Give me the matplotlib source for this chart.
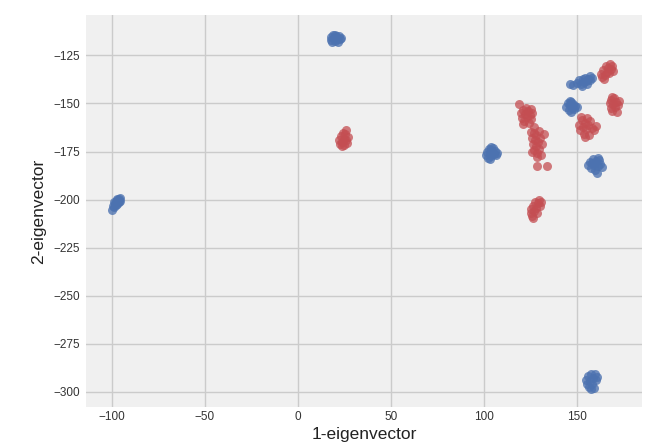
import matplotlib
matplotlib.use("Agg")
import matplotlib.pyplot as plt

# Blue class points (1-eigenvector, 2-eigenvector)
blue_x = [
    -100, -99.5, -99, -98.5, -98, -97.5, -97, -96.5, -96, -95.5, -98, -97, -96, -99, -95.5,
    17.5, 18, 19, 19.5, 20, 20.5, 21, 22, 22.5, 21.5, 18.5, 20, 23,
    101, 101.5, 102, 102.5, 103, 103.5, 104, 104.5, 105, 105.5, 106, 106.5, 103, 104, 107,
    146, 148, 150, 151, 152, 153, 153.5, 154.5, 155, 156, 157, 158, 152.5, 155.5, 157,
    144, 145, 145.5, 146, 146.5, 147, 147.5, 148, 148.5, 149, 146, 150,
    156, 157, 157.5, 158.5, 159, 159.5, 160, 160.5, 161, 162, 162.5, 163.5, 158, 161,
    155, 155.5, 156, 156.5, 157, 157.5, 158, 158.5, 159, 159.5, 160, 160.5, 157.5,
]
blue_y = [
    -205.5, -203.5, -204, -202, -201, -202.5, -200, -201, -199.5, -200.5, -203, -199.5, -201.5, -201.5, -199,
    -115.5, -117, -114.5, -116, -117.5, -115, -116.5, -115, -116.5, -118, -118, -114.2, -115.8,
    -177, -175, -178.5, -173.5, -176, -174, -177.5, -175, -173, -176.5, -174.5, -177, -179, -172.5, -175.5,
    -140, -140.5, -139.5, -138, -140, -137.5, -139, -136.5, -138.5, -137, -138, -136.5, -141, -140, -135.8,
    -152, -150, -153.5, -151, -154.5, -149, -152.5, -150.5, -153, -151.5, -148.5, -152,
    -182, -180.5, -183.5, -179, -182, -184.5, -180, -186, -182.5, -179.5, -181.5, -183, -181, -178.5,
    -294, -296, -292, -297.5, -294.5, -291, -296, -293, -298, -290.5, -294, -292.5, -298.5,
]

# Red class points
red_x = [
    22, 22.5, 23, 23.5, 24, 24.5, 25, 25.5, 26, 26, 26.5, 27, 23.5,
    163, 163.5, 164, 165, 165.5, 166, 166.5, 167, 167.5, 168, 169, 164.5, 169.5,
    167.5, 168, 168.5, 169, 169.5, 170, 170.5, 171, 171.5, 172, 172.5, 169,
    118.8, 120, 120.5, 121, 121.5, 122, 122.5, 123, 123.5, 124, 124.5, 125, 125.5, 126, 121,
    151, 151.5, 152.5, 153, 153.5, 154, 155, 155.5, 156, 156.5, 157, 158, 159, 160, 154.5, 152,
    125.5, 126, 126.5, 127, 127, 127.5, 128, 128, 128.5, 129, 129.5, 129.5, 130, 130.5, 131, 126, 128.7, 128.2, 133.6, 132, 127,
    125, 125.5, 126, 126.5, 127, 127.5, 128, 128.5, 129, 129.5, 130, 130.5, 126.5,
]
red_y = [
    -169, -171, -167, -170, -165.5, -168.5, -171.5, -166, -169, -164, -170.5, -167.5, -172,
    -134.5, -136, -132.5, -135, -130.5, -133.5, -131.5, -134, -129.5, -132, -130.5, -137, -133,
    -150, -152.5, -148, -154, -150.5, -147, -152, -149, -154.5, -151, -148.5, -146.5,
    -150.5, -155, -157.5, -153.5, -159, -155.5, -152.5, -157, -154, -160, -156, -153, -158, -155, -160.5,
    -161, -164, -158.5, -162, -166, -160, -163.5, -157.5, -161, -166.5, -159, -162.5, -164, -161.5, -167.5, -157,
    -165, -168, -171, -165.5, -174, -169, -166.5, -172, -176, -170, -164.5, -173.5, -168, -177, -171, -175, -178, -182.3, -182.3, -166, -162,
    -207, -205, -208.5, -203.5, -206, -201.5, -204.5, -207, -202, -200, -203.5, -201, -209.5,
]

x_ticks = [-100, -50, 0, 50, 100, 150]
y_ticks = [-125, -150, -175, -200, -225, -250, -275, -300]

plt.rcParams['font.family'] = ['Liberation Sans', 'DejaVu Sans']

fig = plt.figure(figsize=(6.5, 4.44), dpi=100, facecolor='white')
ax = fig.add_axes([0.132, 0.083, 0.856, 0.883])
ax.set_facecolor('#f0f0f0')
for s in ax.spines.values():
    s.set_visible(False)
ax.grid(True, color='#cbcbcb', linewidth=1.0)
ax.set_axisbelow(True)

ax.scatter(blue_x, blue_y, s=42, color='#4c72b0', alpha=0.78, linewidths=0)
ax.scatter(red_x, red_y, s=42, color='#c44e52', alpha=0.75, linewidths=0)

ax.set_xlim(-114, 185)
ax.set_ylim(-308, -104)
ax.set_xticks(x_ticks)
ax.set_yticks(y_ticks)
ax.tick_params(axis='x', length=0, labelsize=8.5, colors='#333333', pad=3)
ax.tick_params(axis='y', length=0, labelsize=8.5, colors='#333333', pad=4)
ax.set_xlabel('1-eigenvector', fontsize=12.5, color='#222222', labelpad=3)
ax.set_ylabel('2-eigenvector', fontsize=12.5, color='#222222', labelpad=5)

fig.savefig('out.png', dpi=100, facecolor='white')
